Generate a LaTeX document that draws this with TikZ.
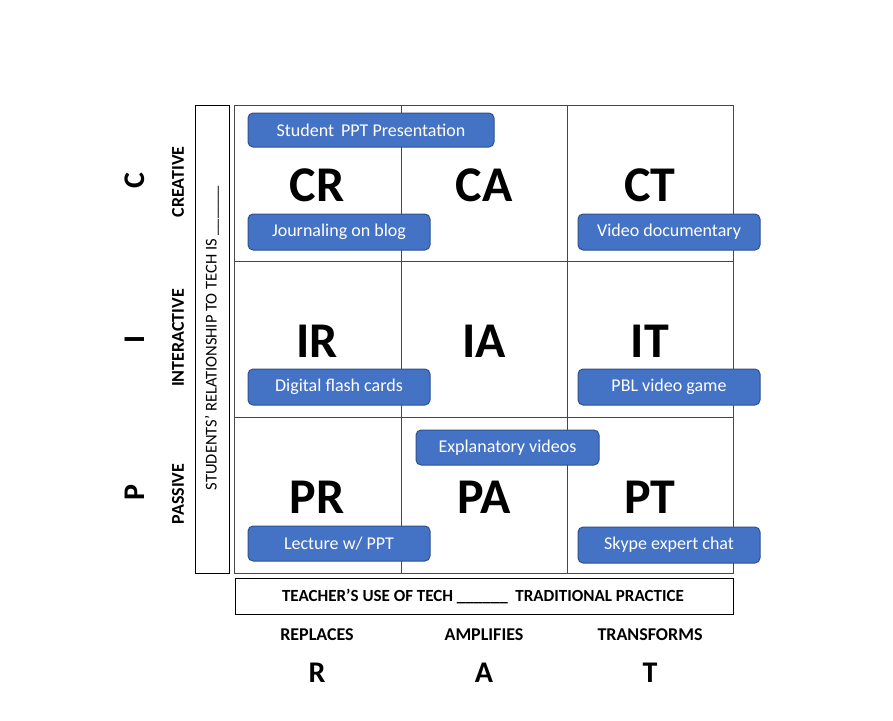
\documentclass[tikz,border=0pt]{standalone}
\usepackage{fontspec}
\setmainfont{Carlito}
\definecolor{bfill}{RGB}{68,114,196}
\definecolor{bdraw}{RGB}{47,82,143}
\definecolor{gridc}{RGB}{70,70,70}
\begin{document}
\begin{tikzpicture}[x=1pt,y=-1pt,
  blue box/.style={draw=bdraw,line width=1pt,fill=bfill,rounded corners=5pt,text=white,font=\fontsize{18}{21}\selectfont,inner sep=0pt},
  big/.style={font=\fontsize{50}{60}\selectfont\bfseries},
  side/.style={font=\fontsize{18}{21}\selectfont\bfseries,rotate=90},
  sideletter/.style={font=\fontsize{30}{36}\selectfont\bfseries,rotate=90},
  botlabel/.style={font=\fontsize{18}{21}\selectfont\bfseries},
  botletter/.style={font=\fontsize{30}{36}\selectfont\bfseries}]
\useasboundingbox (0,0) rectangle (893,720);
\fill[white] (0,0) rectangle (893,720);
% grid
\draw[gridc,line width=0.8pt] (234,105) rectangle (733,573);
\draw[gridc,line width=0.8pt] (401,105) -- (401,573) (567,105) -- (567,573)
  (234,261) -- (733,261) (234,417) -- (733,417);
% left box
\draw[line width=0.8pt] (195,105) rectangle (229,573);
\node[rotate=90,font=\fontsize{16.5}{19}\selectfont] (srt) at (212,338) {STUDENTS’ RELATIONSHIP TO TECH IS \_\_\_\_\_\_};
% bottom box
\draw[line width=0.8pt] (235,578) rectangle (733,614);
\node[font=\fontsize{17}{20}\selectfont\bfseries] (tut) at (483,596) {TEACHER’S USE OF TECH \_\_\_\_\_\_ \ TRADITIONAL PRACTICE};
% big letters
\node[big] (CR) at (317,185) {CR};
\node[big] (CA) at (484,185) {CA};
\node[big] (CT) at (650,185) {CT};
\node[big] (IR) at (317,341) {IR};
\node[big] (IA) at (484,341) {IA};
\node[big] (IT) at (650,341) {IT};
\node[big] (PR) at (317,497) {PR};
\node[big] (PA) at (484,497) {PA};
\node[big] (PT) at (650,497) {PT};
% side labels
\node[sideletter] (Cl) at (135,181) {C};
\node[sideletter] (Il) at (135,339) {I};
\node[sideletter] (Pl) at (135,493) {P};
\node[side] (cre) at (178,182) {CREATIVE};
\node[side] (int) at (178,338) {INTERACTIVE};
\node[side] (pas) at (178,494) {PASSIVE};
% bottom labels
\node[botlabel] (rep) at (317,635) {REPLACES};
\node[botlabel] (amp) at (484,635) {AMPLIFIES};
\node[botlabel] (tra) at (650,635) {TRANSFORMS};
\node[botletter] (R) at (317,673) {R};
\node[botletter] (A) at (484,673) {A};
\node[botletter] (T) at (650,673) {T};
% blue boxes
\node[blue box,minimum width=246pt,minimum height=34pt] (b1) at (371,130) {Student\, PPT Presentation};
\node[blue box,minimum width=182pt,minimum height=36pt] (b2) at (339,232) {Journaling on blog};
\node[blue box,minimum width=182pt,minimum height=36pt] (b3) at (669,232) {Video documentary};
\node[blue box,minimum width=182pt,minimum height=36pt] (b4) at (339,387) {Digital flash cards};
\node[blue box,minimum width=182pt,minimum height=36pt] (b5) at (669,387) {PBL video game};
\node[blue box,minimum width=183pt,minimum height=35pt] (b6) at (507.5,447.5) {Explanatory videos};
\node[blue box,minimum width=182pt,minimum height=35pt] (b7) at (339,543.5) {Lecture w/ PPT};
\node[blue box,minimum width=182pt,minimum height=36pt] (b8) at (669,545) {Skype expert chat};
\end{tikzpicture}
\end{document}
